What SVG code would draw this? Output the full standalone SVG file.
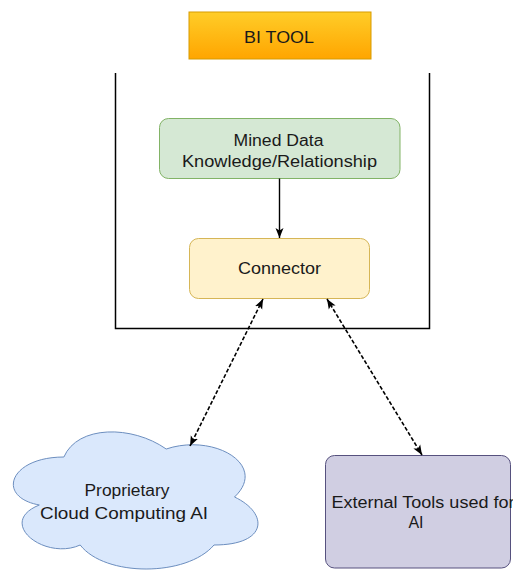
<svg xmlns="http://www.w3.org/2000/svg" width="513" height="572" viewBox="0 0 513 572">
<style>
text{font-family:"Liberation Sans",Arial,sans-serif;font-size:16px;fill:#1a1a1a;text-anchor:middle}
.edge{fill:none;stroke:#000;stroke-width:1.4}
.dash{stroke-dasharray:4 2;stroke-width:1.6}
</style>
<defs>
<linearGradient id="gOrange" x1="0" y1="0" x2="0" y2="1">
<stop offset="0" stop-color="#ffcd28"/>
<stop offset="1" stop-color="#ffa500"/>
</linearGradient>
<marker id="arr" viewBox="0 0 10 10" refX="10" refY="5" markerWidth="10" markerHeight="10" markerUnits="userSpaceOnUse" orient="auto-start-reverse">
<path d="M0,1 L10,5 L0,9 L2.5,5 Z" fill="#000"/>
</marker>
</defs>
<g id="container">
<path d="M115.5,73 V328.5 H429.5 V73" fill="none" stroke="#000" stroke-width="1.5"/>
</g>
<g id="bi-tool">
<rect x="189" y="12" width="182" height="47" fill="url(#gOrange)" stroke="#d79b00" stroke-width="1"/>
<text x="279" y="43" textLength="70" lengthAdjust="spacingAndGlyphs">BI TOOL</text>
</g>
<g id="mined-data">
<rect x="159.5" y="118.5" width="240.5" height="60" rx="9" fill="#d5e8d4" stroke="#82b366"/>
<text x="278.5" y="146" textLength="90" lengthAdjust="spacingAndGlyphs">Mined Data</text>
<text x="279.5" y="167" textLength="195" lengthAdjust="spacingAndGlyphs">Knowledge/Relationship</text>
</g>
<g id="connector">
<rect x="189.5" y="238.5" width="180" height="60" rx="9" fill="#fff2cc" stroke="#d6b656"/>
<text x="279.5" y="274" textLength="83" lengthAdjust="spacingAndGlyphs">Connector</text>
</g>
<g id="cloud-ai">
<path d="M63.9,457 C9.25,457 -4.4,497 39.3,505 C-4.4,522.6 44.7,561 80.2,545 C104.8,577 186.7,577 214,545 C268.6,545 268.6,513 234.5,497 C268.6,465 214,433 166.2,449 C132.1,425 77.5,425 63.9,457 Z" fill="#dae8fc" stroke="#6c8ebf"/>
<text x="127" y="496" textLength="85" lengthAdjust="spacingAndGlyphs">Proprietary</text>
<text x="124" y="519" textLength="168" lengthAdjust="spacingAndGlyphs">Cloud Computing AI</text>
</g>
<g id="external-tools">
<rect x="325.5" y="455.5" width="185" height="112.5" rx="9" fill="#d0cee2" stroke="#56517e"/>
<text x="423" y="508" textLength="183" lengthAdjust="spacingAndGlyphs">External Tools used for</text>
<text x="416" y="528">AI</text>
</g>
<g id="connectors">
<line class="edge" x1="279.5" y1="178.5" x2="279.5" y2="238" marker-end="url(#arr)"/>
<line class="edge dash" x1="263" y1="299" x2="190" y2="446" marker-start="url(#arr)" marker-end="url(#arr)"/>
<line class="edge dash" x1="327" y1="299" x2="422" y2="455" marker-start="url(#arr)" marker-end="url(#arr)"/>
</g>
</svg>
